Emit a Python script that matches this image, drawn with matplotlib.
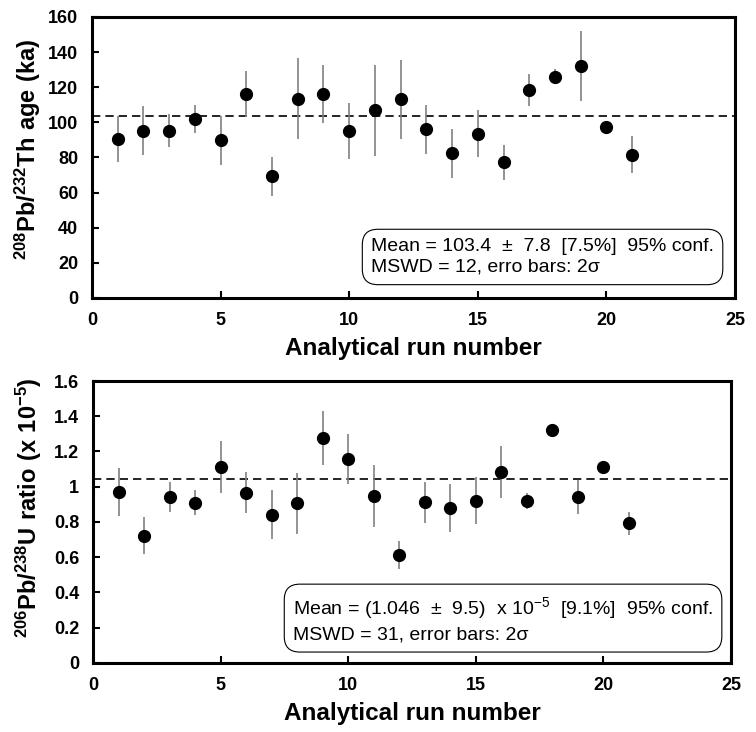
import numpy as np
import matplotlib.pyplot as plt

plt.rcParams['font.family'] = ['Liberation Sans', 'DejaVu Sans']
plt.rcParams['mathtext.fontset'] = 'custom'
plt.rcParams['mathtext.rm'] = 'Liberation Sans'
plt.rcParams['mathtext.bf'] = 'Liberation Sans:bold'

# run numbers
runs = np.arange(1, 22)

# 208Pb/232Th ages (ka) and 2-sigma errors
th_age = [90.4, 95.2, 95.2, 101.8, 89.9, 116.0, 69.2, 113.5, 116.2, 95.2, 106.9,
          113.1, 96.1, 82.3, 93.5, 77.2, 118.4, 126.0, 132.0, 97.2, 81.7]
th_err = [13.0, 14.0, 9.5, 8.0, 14.0, 13.0, 11.0, 23.0, 16.7, 16.0, 26.0,
          22.5, 14.0, 14.0, 13.5, 10.0, 9.0, 4.3, 20.0, 3.5, 10.5]
th_mean = 103.4

# 206Pb/238U ratios (x 10^-5) and 2-sigma errors
u_ratio = [0.971, 0.723, 0.942, 0.910, 1.112, 0.967, 0.842, 0.906, 1.275, 1.158, 0.946,
           0.613, 0.912, 0.882, 0.921, 1.084, 0.919, 1.324, 0.942, 1.112, 0.793]
u_err = [0.137, 0.104, 0.086, 0.069, 0.148, 0.118, 0.139, 0.172, 0.154, 0.142, 0.175,
         0.081, 0.115, 0.136, 0.133, 0.148, 0.043, 0.01, 0.095, 0.027, 0.066]
u_mean = 1.046

u_ticklabels = ['0', '0.2', '0.4', '0.6', '0.8', '1', '1.2', '1.4', '1.6']

fig = plt.figure(figsize=(7.56, 7.32), dpi=100)
ax1 = fig.add_axes([0.1217, 0.5929, 0.8505, 0.3839])
ax2 = fig.add_axes([0.1230, 0.0943, 0.8440, 0.3852])


def style(ax, ymax, ystep):
    ax.set_xlim(0, 25)
    ax.set_ylim(0, ymax)
    ax.set_xticks(np.arange(0, 26, 5))
    ax.set_yticks(np.arange(0, ymax + ystep / 2, ystep))
    for s in ax.spines.values():
        s.set_linewidth(2.2)
    ax.tick_params(direction='in', length=5, width=1.5, labelsize=13)
    ax.tick_params(axis='y', pad=10)
    ax.tick_params(axis='x', pad=10)
    ax.set_xlabel('Analytical run number', fontsize=17.5, fontweight='bold', labelpad=6)


# top panel
ax1.errorbar(runs, th_age, yerr=th_err, fmt='o', color='black', ms=8.5,
             ecolor='#808080', elinewidth=1.2, capsize=0, zorder=3)
ax1.axhline(th_mean, color='black', linestyle=(0, (5, 3)), linewidth=1.2)
style(ax1, 160, 20)
ax1.set_yticklabels([str(v) for v in range(0, 161, 20)])
for lab in ax1.get_xticklabels() + ax1.get_yticklabels():
    lab.set_fontweight('bold')
ax1.set_ylabel(r'$\mathbf{^{208}Pb/^{232}Th\ age\ (ka)}$', fontsize=17)
ax1.yaxis.set_label_coords(-0.076, 0.53)
ax1.text(0.434, 0.146, u'Mean = 103.4  \u00b1  7.8  [7.5%]  95% conf.\nMSWD = 12, erro bars: 2\u03c3',
         transform=ax1.transAxes, fontsize=14, va='center', ha='left', linespacing=1.3,
         bbox=dict(boxstyle='round,pad=0.45,rounding_size=0.8', fc='white', ec='black', lw=0.8))

# bottom panel
ax2.errorbar(runs, u_ratio, yerr=u_err, fmt='o', color='black', ms=8.5,
             ecolor='#808080', elinewidth=1.2, capsize=0, zorder=3)
ax2.axhline(u_mean, color='black', linestyle=(0, (5, 3)), linewidth=1.2)
style(ax2, 1.6, 0.2)
ax2.set_yticklabels(u_ticklabels)
for lab in ax2.get_xticklabels() + ax2.get_yticklabels():
    lab.set_fontweight('bold')
ax2.set_ylabel(r'$\mathbf{^{206}Pb/^{238}U\ ratio\ (x\ 10^{-5})}$', fontsize=17)
ax2.yaxis.set_label_coords(-0.077, 0.55)
ax2.text(0.3135, 0.154, u'Mean = (1.046  \u00b1  9.5)  x 10$^{\\mathrm{-5}}$  [9.1%]  95% conf.\nMSWD = 31, error bars: 2\u03c3',
         transform=ax2.transAxes, fontsize=14, va='center', ha='left', linespacing=1.3,
         bbox=dict(boxstyle='round,pad=0.45,rounding_size=0.8', fc='white', ec='black', lw=0.8))

fig.savefig('out.png', dpi=100)
